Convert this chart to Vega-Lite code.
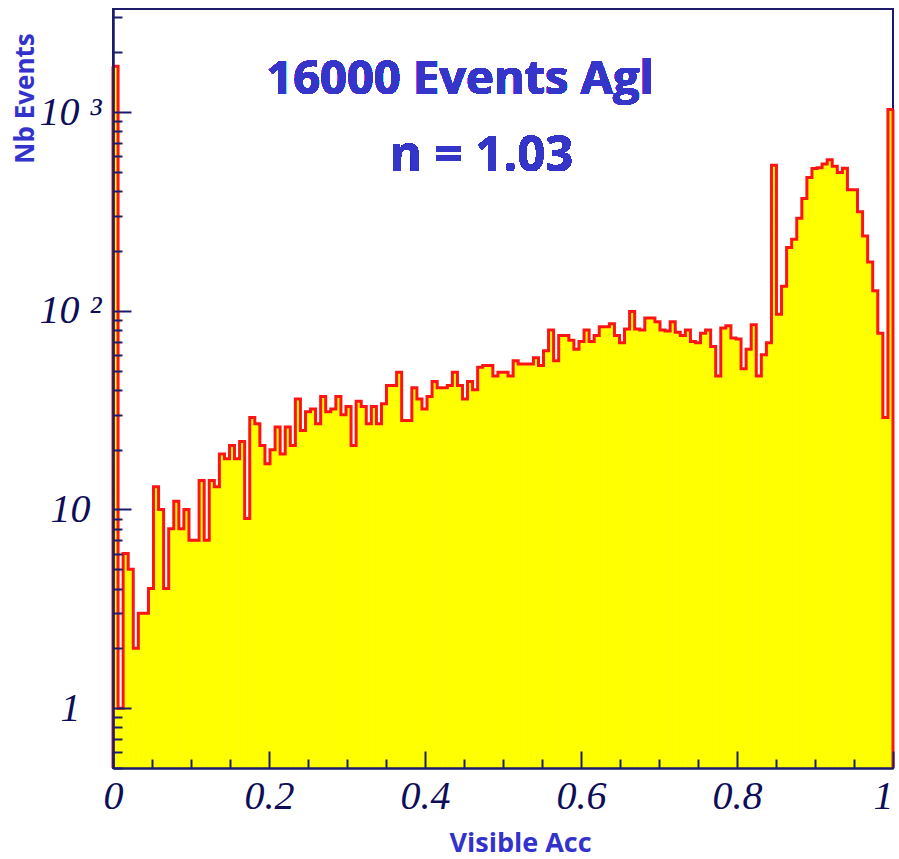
{
  "$schema": "https://vega.github.io/schema/vega-lite/v6.json",
  "width": 780,
  "height": 759,
  "autosize": "none",
  "padding": {"left": 113, "top": 9, "right": 6, "bottom": 91},
  "background": "white",
  "config": {"view": {"stroke": "#1c1c6a", "strokeWidth": 2}},
  "datasets": {
    "hist": [
      {"x0": 0, "x1": 0.0065, "n": 1700},
      {"x0": 0.0065, "x1": 0.0130, "n": 1},
      {"x0": 0.0130, "x1": 0.0195, "n": 6},
      {"x0": 0.0195, "x1": 0.0260, "n": 5},
      {"x0": 0.0260, "x1": 0.0325, "n": 2},
      {"x0": 0.0325, "x1": 0.0390, "n": 3},
      {"x0": 0.0390, "x1": 0.0455, "n": 3},
      {"x0": 0.0455, "x1": 0.0519, "n": 4},
      {"x0": 0.0519, "x1": 0.0584, "n": 13},
      {"x0": 0.0584, "x1": 0.0649, "n": 10},
      {"x0": 0.0649, "x1": 0.0714, "n": 4},
      {"x0": 0.0714, "x1": 0.0779, "n": 8},
      {"x0": 0.0779, "x1": 0.0844, "n": 11},
      {"x0": 0.0844, "x1": 0.0909, "n": 8},
      {"x0": 0.0909, "x1": 0.0974, "n": 10},
      {"x0": 0.0974, "x1": 0.1039, "n": 7},
      {"x0": 0.1039, "x1": 0.1104, "n": 7},
      {"x0": 0.1104, "x1": 0.1169, "n": 14},
      {"x0": 0.1169, "x1": 0.1234, "n": 7},
      {"x0": 0.1234, "x1": 0.1299, "n": 14},
      {"x0": 0.1299, "x1": 0.1364, "n": 13},
      {"x0": 0.1364, "x1": 0.1429, "n": 19},
      {"x0": 0.1429, "x1": 0.1494, "n": 18},
      {"x0": 0.1494, "x1": 0.1558, "n": 21},
      {"x0": 0.1558, "x1": 0.1623, "n": 18},
      {"x0": 0.1623, "x1": 0.1688, "n": 22},
      {"x0": 0.1688, "x1": 0.1753, "n": 9},
      {"x0": 0.1753, "x1": 0.1818, "n": 29},
      {"x0": 0.1818, "x1": 0.1883, "n": 27},
      {"x0": 0.1883, "x1": 0.1948, "n": 21},
      {"x0": 0.1948, "x1": 0.2013, "n": 17},
      {"x0": 0.2013, "x1": 0.2078, "n": 20},
      {"x0": 0.2078, "x1": 0.2143, "n": 26},
      {"x0": 0.2143, "x1": 0.2208, "n": 19},
      {"x0": 0.2208, "x1": 0.2273, "n": 26},
      {"x0": 0.2273, "x1": 0.2338, "n": 21},
      {"x0": 0.2338, "x1": 0.2403, "n": 36},
      {"x0": 0.2403, "x1": 0.2468, "n": 25},
      {"x0": 0.2468, "x1": 0.2532, "n": 31},
      {"x0": 0.2532, "x1": 0.2597, "n": 32},
      {"x0": 0.2597, "x1": 0.2662, "n": 27},
      {"x0": 0.2662, "x1": 0.2727, "n": 37},
      {"x0": 0.2727, "x1": 0.2792, "n": 31},
      {"x0": 0.2792, "x1": 0.2857, "n": 32},
      {"x0": 0.2857, "x1": 0.2922, "n": 37},
      {"x0": 0.2922, "x1": 0.2987, "n": 30},
      {"x0": 0.2987, "x1": 0.3052, "n": 33},
      {"x0": 0.3052, "x1": 0.3117, "n": 21},
      {"x0": 0.3117, "x1": 0.3182, "n": 35},
      {"x0": 0.3182, "x1": 0.3247, "n": 33},
      {"x0": 0.3247, "x1": 0.3312, "n": 27},
      {"x0": 0.3312, "x1": 0.3377, "n": 33},
      {"x0": 0.3377, "x1": 0.3442, "n": 27},
      {"x0": 0.3442, "x1": 0.3506, "n": 34},
      {"x0": 0.3506, "x1": 0.3571, "n": 42},
      {"x0": 0.3571, "x1": 0.3636, "n": 42},
      {"x0": 0.3636, "x1": 0.3701, "n": 49},
      {"x0": 0.3701, "x1": 0.3766, "n": 28},
      {"x0": 0.3766, "x1": 0.3831, "n": 28},
      {"x0": 0.3831, "x1": 0.3896, "n": 41},
      {"x0": 0.3896, "x1": 0.3961, "n": 36},
      {"x0": 0.3961, "x1": 0.4026, "n": 32},
      {"x0": 0.4026, "x1": 0.4091, "n": 37},
      {"x0": 0.4091, "x1": 0.4156, "n": 44},
      {"x0": 0.4156, "x1": 0.4221, "n": 41},
      {"x0": 0.4221, "x1": 0.4286, "n": 41},
      {"x0": 0.4286, "x1": 0.4351, "n": 42},
      {"x0": 0.4351, "x1": 0.4416, "n": 49},
      {"x0": 0.4416, "x1": 0.4481, "n": 42},
      {"x0": 0.4481, "x1": 0.4545, "n": 36},
      {"x0": 0.4545, "x1": 0.4610, "n": 44},
      {"x0": 0.4610, "x1": 0.4675, "n": 40},
      {"x0": 0.4675, "x1": 0.4740, "n": 52},
      {"x0": 0.4740, "x1": 0.4805, "n": 53},
      {"x0": 0.4805, "x1": 0.4870, "n": 53},
      {"x0": 0.4870, "x1": 0.4935, "n": 47},
      {"x0": 0.4935, "x1": 0.5000, "n": 49},
      {"x0": 0.5000, "x1": 0.5065, "n": 49},
      {"x0": 0.5065, "x1": 0.5130, "n": 47},
      {"x0": 0.5130, "x1": 0.5195, "n": 56},
      {"x0": 0.5195, "x1": 0.5260, "n": 54},
      {"x0": 0.5260, "x1": 0.5325, "n": 54},
      {"x0": 0.5325, "x1": 0.5390, "n": 54},
      {"x0": 0.5390, "x1": 0.5455, "n": 58},
      {"x0": 0.5455, "x1": 0.5519, "n": 53},
      {"x0": 0.5519, "x1": 0.5584, "n": 63},
      {"x0": 0.5584, "x1": 0.5649, "n": 80},
      {"x0": 0.5649, "x1": 0.5714, "n": 56},
      {"x0": 0.5714, "x1": 0.5779, "n": 75},
      {"x0": 0.5779, "x1": 0.5844, "n": 75},
      {"x0": 0.5844, "x1": 0.5909, "n": 71},
      {"x0": 0.5909, "x1": 0.5974, "n": 64},
      {"x0": 0.5974, "x1": 0.6039, "n": 70},
      {"x0": 0.6039, "x1": 0.6104, "n": 80},
      {"x0": 0.6104, "x1": 0.6169, "n": 70},
      {"x0": 0.6169, "x1": 0.6234, "n": 75},
      {"x0": 0.6234, "x1": 0.6299, "n": 83},
      {"x0": 0.6299, "x1": 0.6364, "n": 83},
      {"x0": 0.6364, "x1": 0.6429, "n": 86},
      {"x0": 0.6429, "x1": 0.6494, "n": 75},
      {"x0": 0.6494, "x1": 0.6558, "n": 69},
      {"x0": 0.6558, "x1": 0.6623, "n": 81},
      {"x0": 0.6623, "x1": 0.6688, "n": 99},
      {"x0": 0.6688, "x1": 0.6753, "n": 81},
      {"x0": 0.6753, "x1": 0.6818, "n": 80},
      {"x0": 0.6818, "x1": 0.6883, "n": 92},
      {"x0": 0.6883, "x1": 0.6948, "n": 92},
      {"x0": 0.6948, "x1": 0.7013, "n": 88},
      {"x0": 0.7013, "x1": 0.7078, "n": 80},
      {"x0": 0.7078, "x1": 0.7143, "n": 79},
      {"x0": 0.7143, "x1": 0.7208, "n": 88},
      {"x0": 0.7208, "x1": 0.7273, "n": 78},
      {"x0": 0.7273, "x1": 0.7338, "n": 75},
      {"x0": 0.7338, "x1": 0.7403, "n": 80},
      {"x0": 0.7403, "x1": 0.7468, "n": 70},
      {"x0": 0.7468, "x1": 0.7532, "n": 69},
      {"x0": 0.7532, "x1": 0.7597, "n": 77},
      {"x0": 0.7597, "x1": 0.7662, "n": 80},
      {"x0": 0.7662, "x1": 0.7727, "n": 66},
      {"x0": 0.7727, "x1": 0.7792, "n": 47},
      {"x0": 0.7792, "x1": 0.7857, "n": 82},
      {"x0": 0.7857, "x1": 0.7922, "n": 84},
      {"x0": 0.7922, "x1": 0.7987, "n": 73},
      {"x0": 0.7987, "x1": 0.8052, "n": 72},
      {"x0": 0.8052, "x1": 0.8117, "n": 51},
      {"x0": 0.8117, "x1": 0.8182, "n": 64},
      {"x0": 0.8182, "x1": 0.8247, "n": 85},
      {"x0": 0.8247, "x1": 0.8312, "n": 47},
      {"x0": 0.8312, "x1": 0.8377, "n": 60},
      {"x0": 0.8377, "x1": 0.8442, "n": 69},
      {"x0": 0.8442, "x1": 0.8506, "n": 540},
      {"x0": 0.8506, "x1": 0.8571, "n": 96},
      {"x0": 0.8571, "x1": 0.8636, "n": 133},
      {"x0": 0.8636, "x1": 0.8701, "n": 208},
      {"x0": 0.8701, "x1": 0.8766, "n": 229},
      {"x0": 0.8766, "x1": 0.8831, "n": 292},
      {"x0": 0.8831, "x1": 0.8896, "n": 367},
      {"x0": 0.8896, "x1": 0.8961, "n": 469},
      {"x0": 0.8961, "x1": 0.9026, "n": 520},
      {"x0": 0.9026, "x1": 0.9091, "n": 525},
      {"x0": 0.9091, "x1": 0.9156, "n": 547},
      {"x0": 0.9156, "x1": 0.9221, "n": 575},
      {"x0": 0.9221, "x1": 0.9286, "n": 533},
      {"x0": 0.9286, "x1": 0.9351, "n": 497},
      {"x0": 0.9351, "x1": 0.9416, "n": 521},
      {"x0": 0.9416, "x1": 0.9481, "n": 406},
      {"x0": 0.9481, "x1": 0.9545, "n": 406},
      {"x0": 0.9545, "x1": 0.9610, "n": 315},
      {"x0": 0.9610, "x1": 0.9675, "n": 238},
      {"x0": 0.9675, "x1": 0.9740, "n": 176},
      {"x0": 0.9740, "x1": 0.9805, "n": 126},
      {"x0": 0.9805, "x1": 0.9870, "n": 77},
      {"x0": 0.9870, "x1": 0.9935, "n": 29},
      {"x0": 0.9935, "x1": 1, "n": 1030}
    ]
  },
  "data": {"name": "hist"},
  "resolve": {
    "scale": {"x": "shared", "y": "shared"},
    "axis": {"x": "independent", "y": "independent"}
  },
  "layer": [
    {
      "mark": {"type": "bar", "color": "#ffff00", "stroke": "#ffff00", "strokeWidth": 0.6, "clip": true},
      "encoding": {
        "x": {
          "field": "x0", "type": "quantitative",
          "scale": {"domain": [0, 1], "nice": false, "zero": false},
          "axis": {
            "orient": "bottom", "zindex": 1,
            "values": [0.05, 0.1, 0.15, 0.25, 0.3, 0.35, 0.45, 0.5, 0.55, 0.65, 0.7, 0.75, 0.85, 0.9, 0.95],
            "tickSize": -9, "tickWidth": 2, "tickColor": "#1c1c6a",
            "labels": false, "title": null, "grid": false,
            "domainColor": "#1c1c6a", "domainWidth": 2
          }
        },
        "x2": {"field": "x1"},
        "y": {
          "field": "n", "type": "quantitative",
          "scale": {"type": "log", "domain": [0.5, 3300], "nice": false},
          "axis": {
            "orient": "left", "zindex": 1,
            "values": [0.5, 0.6, 0.7, 0.8, 0.9, 2, 3, 4, 5, 6, 7, 8, 9, 20, 30, 40, 50, 60, 70, 80, 90, 200, 300, 400, 500, 600, 700, 800, 900, 2000, 3000],
            "tickSize": -9, "tickWidth": 2, "tickColor": "#1c1c6a",
            "labels": false, "title": null, "grid": false,
            "domainColor": "#1c1c6a", "domainWidth": 2
          }
        },
        "y2": {"datum": 0.5}
      }
    },
    {
      "transform": [{"fold": ["x0", "x1"], "as": ["key", "x"]}],
      "mark": {"type": "line", "color": "#ff1414", "strokeWidth": 3, "clip": true},
      "encoding": {
        "x": {
          "field": "x", "type": "quantitative",
          "axis": {
            "orient": "bottom", "zindex": 1,
            "values": [0, 0.2, 0.4, 0.6, 0.8, 1],
            "labelExpr": "datum.value == 0 ? '0' : datum.value == 1 ? '1' : format(datum.value, '.1f')",
            "tickSize": -17, "tickWidth": 2, "tickColor": "#1c1c6a",
            "labelFont": "Liberation Serif", "labelFontStyle": "italic", "labelFontSize": 40,
            "labelColor": "#0d0d58", "labelPadding": 45, "labelBaseline": "middle",
            "labelAlign": {"condition": {"test": "datum.value == 1", "value": "right"}, "value": "center"},
            "labelFlush": false, "labelOverlap": false, "labelBound": false,
            "grid": false, "domainColor": "#1c1c6a", "domainWidth": 2,
            "title": "Visible Acc", "titleFont": "Open Sans", "titleFontWeight": "bold",
            "titleFontSize": 27, "titleColor": "#3333cc",
            "titleX": 407, "titleY": 75, "titleAlign": "center", "titleBaseline": "middle"
          }
        },
        "y": {
          "field": "n", "type": "quantitative",
          "axis": {
            "orient": "left", "zindex": 1,
            "values": [1, 10, 100, 1000],
            "labelExpr": "datum.value == 1000 ? '10 ³' : datum.value == 100 ? '10 ²' : datum.value == 10 ? '10' : '1'",
            "tickSize": -18, "tickWidth": 2, "tickColor": "#1c1c6a",
            "labelFont": "Liberation Serif", "labelFontStyle": "italic", "labelFontSize": 40,
            "labelColor": "#0d0d58", "labelPadding": 61, "labelAlign": "center", "labelBaseline": "middle",
            "labelFlush": false, "labelOverlap": false, "labelBound": false,
            "grid": false, "domainColor": "#1c1c6a", "domainWidth": 2,
            "title": "Nb Events", "titleFont": "Open Sans", "titleFontWeight": "bold",
            "titleFontSize": 26, "titleColor": "#3333cc", "titleAngle": -90,
            "titleX": -88, "titleY": 89, "titleAlign": "center", "titleBaseline": "middle"
          }
        },
        "order": [
          {"field": "x", "type": "quantitative"},
          {"field": "key", "type": "nominal", "sort": "descending"}
        ]
      }
    },
    {
      "transform": [
        {"fold": ["x0", "x1"], "as": ["key", "x"]},
        {"filter": "(datum.key == 'x0' && datum.x == 0) || (datum.key == 'x1' && datum.x == 1)"}
      ],
      "mark": {"type": "rule", "color": "#ff1414", "strokeWidth": 3},
      "encoding": {
        "x": {"field": "x", "type": "quantitative", "axis": null},
        "y": {"field": "n", "type": "quantitative", "axis": null},
        "y2": {"datum": 0.5}
      }
    },
    {
      "mark": {"type": "text", "text": "16000 Events Agl", "font": "Open Sans", "fontWeight": "bold", "fontSize": 47, "color": "#3535c9", "align": "center", "baseline": "alphabetic"},
      "encoding": {
        "x": {"datum": 0.445, "type": "quantitative", "axis": null},
        "y": {"datum": 1234, "type": "quantitative", "axis": null}
      }
    },
    {
      "mark": {"type": "text", "text": "n = 1.03", "font": "Open Sans", "fontWeight": "bold", "fontSize": 49, "color": "#3535c9", "align": "center", "baseline": "alphabetic"},
      "encoding": {
        "x": {"datum": 0.4724, "type": "quantitative", "axis": null},
        "y": {"datum": 505, "type": "quantitative", "axis": null}
      }
    }
  ]
}
